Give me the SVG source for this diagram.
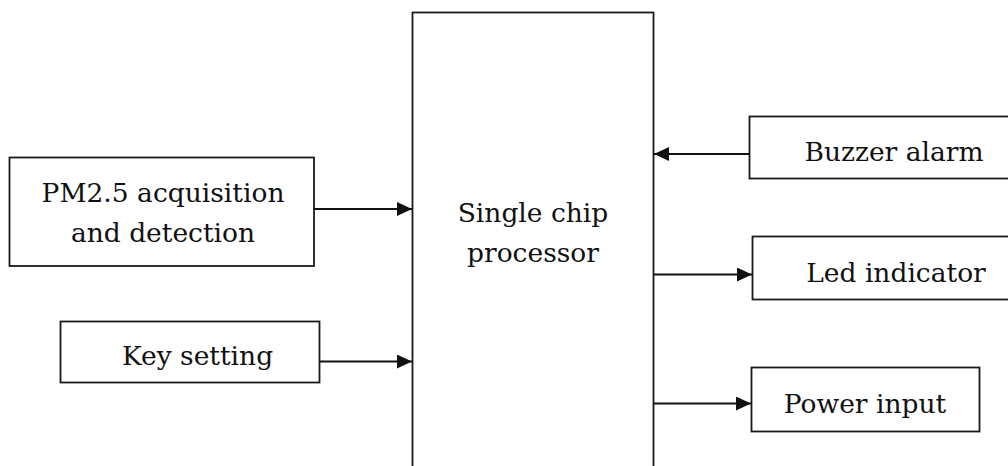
<svg xmlns="http://www.w3.org/2000/svg" width="1008" height="466" viewBox="0 0 1008 466">
<style>
.box{fill:#fff;stroke:#1a1a1a;stroke-width:1.8}
.t{font-family:"DejaVu Serif","Liberation Serif",serif;font-size:26.5px;fill:#111;text-anchor:middle}
.c{stroke:#111;stroke-width:1.8;fill:none;marker-end:url(#ah)}
</style>
<defs>
<marker id="ah" markerUnits="userSpaceOnUse" markerWidth="16" markerHeight="14" refX="15" refY="7" orient="auto">
<path d="M0,0 L15,7 L0,14 Z" fill="#111"/>
</marker>
</defs>
<rect width="1008" height="466" fill="#fff"/>
<g id="cpu">
<rect class="box" x="412.5" y="12.5" width="241" height="470"/>
<text class="t" x="533" y="222">Single chip</text>
<text class="t" x="533" y="262">processor</text>
</g>
<g id="pm25">
<rect class="box" x="9.5" y="157.5" width="304.5" height="108.5"/>
<text class="t" x="163" y="202">PM2.5 acquisition</text>
<text class="t" x="163" y="241.5">and detection</text>
</g>
<g id="key">
<rect class="box" x="60.5" y="321.5" width="259" height="61"/>
<text class="t" x="197.5" y="365">Key setting</text>
</g>
<g id="buzzer">
<rect class="box" x="749.5" y="116.5" width="270" height="62"/>
<text class="t" x="894" y="161">Buzzer alarm</text>
</g>
<g id="led">
<rect class="box" x="752.5" y="236.5" width="270" height="63"/>
<text class="t" x="896" y="281.5">Led indicator</text>
</g>
<g id="power">
<rect class="box" x="751.5" y="367.5" width="228" height="64"/>
<text class="t" x="865" y="413">Power input</text>
</g>
<g id="connectors">
<line class="c" x1="314" y1="209" x2="412" y2="209"/>
<line class="c" x1="320" y1="361.5" x2="412" y2="361.5"/>
<line class="c" x1="749" y1="154" x2="654" y2="154"/>
<line class="c" x1="654" y1="274.5" x2="752" y2="274.5"/>
<line class="c" x1="654" y1="403.5" x2="751" y2="403.5"/>
</g>
</svg>
